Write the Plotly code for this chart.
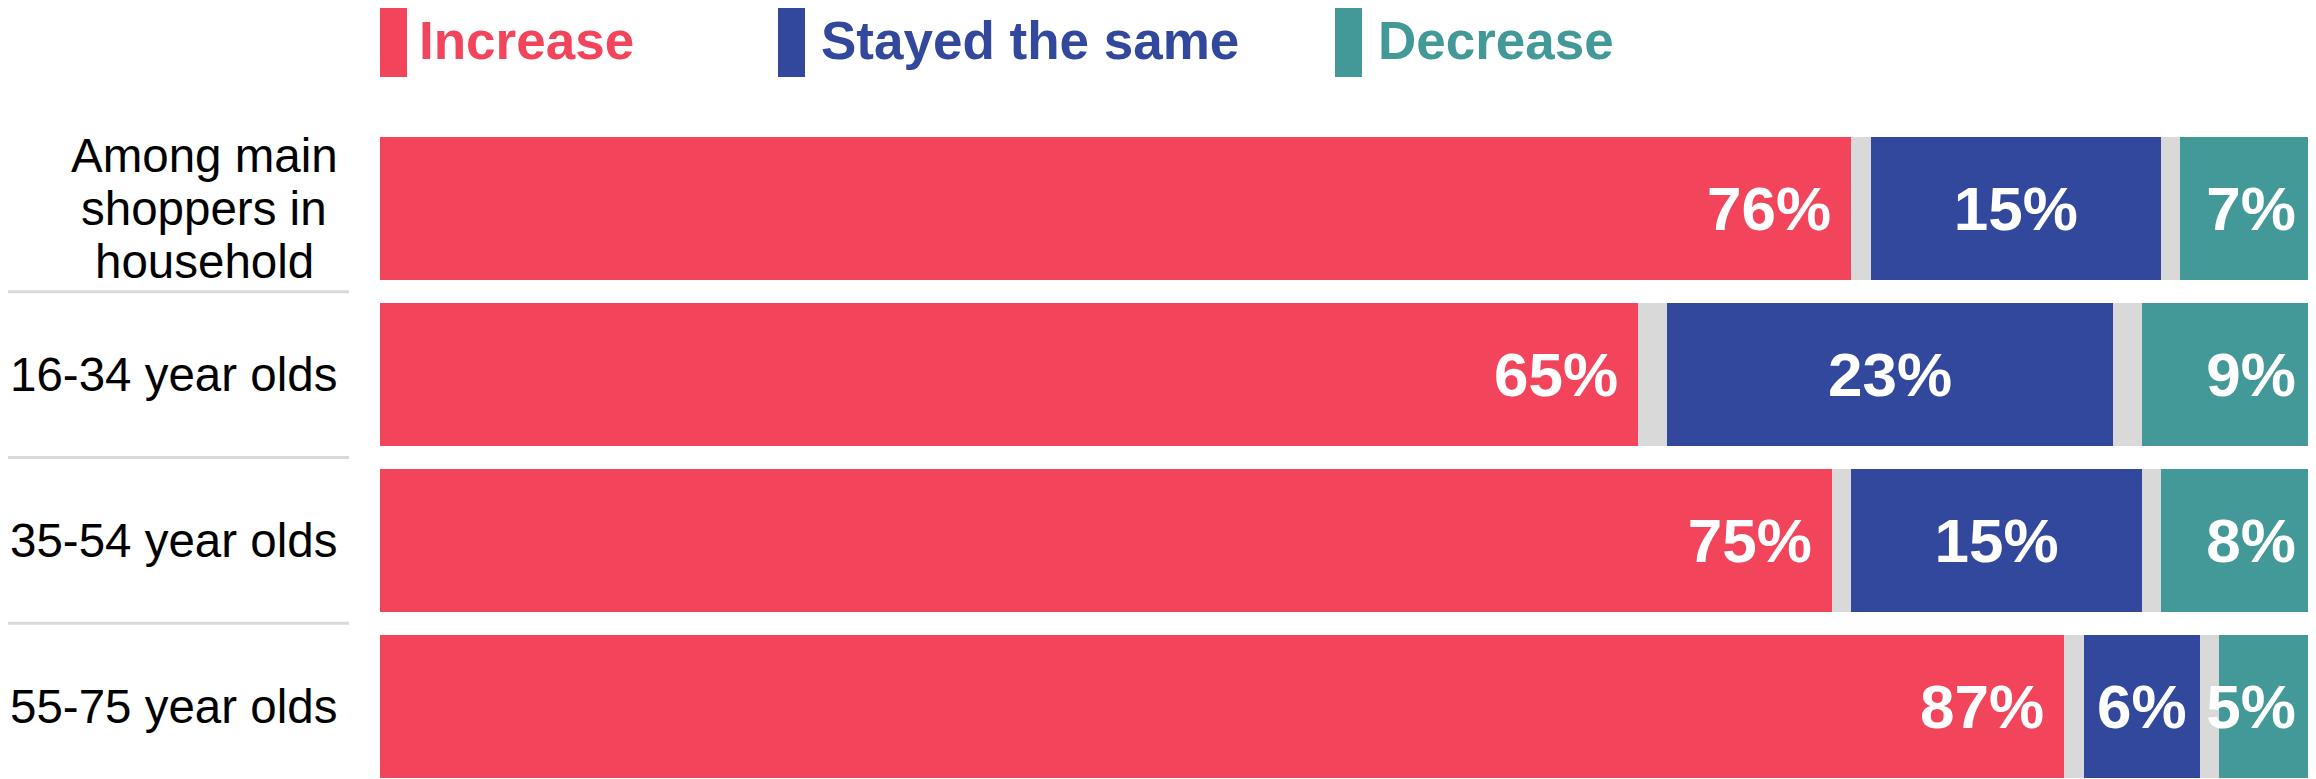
import plotly.graph_objects as go

# ---- data ----
categories = ["Among main<br>shoppers in<br>household", "16-34 year olds", "35-54 year olds", "55-75 year olds"]
increase = [76, 65, 75, 87]
stayed_same = [15, 23, 15, 6]
decrease = [7, 9, 8, 5]
gap_before_same = [1, 1.5, 1, 1]      # grey (no answer) segment between red and blue
gap_before_decrease = [1, 1.5, 1, 1]  # grey segment between blue and teal
series_names = ["Increase", "Stayed the same", "Decrease"]

# ---- style ----
RED = "#F2445A"
BLUE = "#32489C"
TEAL = "#439898"
GREY = "#D9D9D9"
FONT = "Liberation Sans, Arial, Helvetica, sans-serif"
OFF = 8                      # page body margin offset
PAGE_W, PAGE_H = 2316, 779
W, H = PAGE_W - OFF, PAGE_H - OFF
# plot area in page pixels: x 380..2316, y 126..779
ML, MT, MB, MR = 380 - OFF, 126 - OFF, 0, 0
PW, PH = W - ML - MR, H - MT - MB

ypos = list(range(len(categories)))
NBSP = "\u00a0"

fig = go.Figure()

def add_bar(vals, color, name, text=True, anchor="end", tmpl="%{x}%"):
    fig.add_trace(go.Bar(
        y=ypos, x=vals, orientation="h", name=name,
        marker=dict(color=color, line=dict(width=0)),
        text=vals if text else None,
        texttemplate=tmpl if text else None,
        textposition="inside" if text else "none",
        insidetextanchor=anchor,
        textangle=0,
        constraintext="none",
        textfont=dict(family=FONT, size=62, color="white", weight="bold"),
        hoverinfo="skip", showlegend=False,
    ))

add_bar(increase, RED, series_names[0], anchor="end", tmpl="%{x}%" + NBSP)
add_bar(gap_before_same, GREY, "gap1", text=False)
add_bar(stayed_same, BLUE, series_names[1], anchor="middle", tmpl="%{x}%")
add_bar(gap_before_decrease, GREY, "gap2", text=False)
add_bar(decrease, TEAL, series_names[2], anchor="end", tmpl="%{x}%" + NBSP)

annotations = []
shapes = []

def px(p):  # page x pixel -> paper
    return (p - OFF - ML) / PW

def py(p):  # page y pixel -> paper
    return (H - MB - (p - OFF)) / PH

# ---- row labels ----
LABEL_SIZE = 47.5
line_pitch = 53
for i, cat in enumerate(categories):
    lines = cat.split("<br>")
    if len(lines) == 1:
        annotations.append(dict(
            x=px(339), xref="paper", y=i, yref="y", text=cat,
            xanchor="right", yanchor="middle", showarrow=False,
            font=dict(family=FONT, size=LABEL_SIZE, color="black")))
    else:
        mid = (len(lines) - 1) / 2
        for j, ln in enumerate(lines):
            annotations.append(dict(
                x=px(204), xref="paper", y=i, yref="y", text=ln,
                xanchor="center", yanchor="middle", showarrow=False,
                yshift=(mid - j) * line_pitch,
                font=dict(family=FONT, size=LABEL_SIZE, color="black")))

# separator lines between row labels
for k in range(len(categories) - 1):
    shapes.append(dict(
        type="line", xref="paper", yref="y",
        x0=px(4), x1=px(349), y0=k + 0.5, y1=k + 0.5,
        line=dict(color=GREY, width=3)))

# ---- custom legend ----
legend_items = [
    (series_names[0], RED, 380, 419),
    (series_names[1], BLUE, 778, 821),
    (series_names[2], TEAL, 1335, 1378),
]
for name, color, sx, tx in legend_items:
    shapes.append(dict(
        type="rect", xref="paper", yref="paper",
        x0=px(sx), x1=px(sx + 27), y0=py(77), y1=py(4),
        fillcolor=color, line=dict(width=0)))
    annotations.append(dict(
        x=px(tx - 2), xref="paper", y=py(41), yref="paper", text=name,
        xanchor="left", yanchor="middle", showarrow=False,
        font=dict(family=FONT, size=53, color=color, weight="bold")))

fig.update_layout(
    barmode="stack",
    bargap=0.137,
    width=W, height=H,
    margin=dict(l=ML, r=MR, t=MT, b=MB, pad=0),
    paper_bgcolor="white", plot_bgcolor="white",
    xaxis=dict(range=[0, 100], visible=False, fixedrange=True),
    yaxis=dict(range=[3.44, -0.5], showticklabels=False, showgrid=False,
               zeroline=False, showline=False, ticks="", fixedrange=True),
    annotations=annotations,
    shapes=shapes,
    showlegend=False,
    font=dict(family=FONT),
)

fig.write_html("out.html")
